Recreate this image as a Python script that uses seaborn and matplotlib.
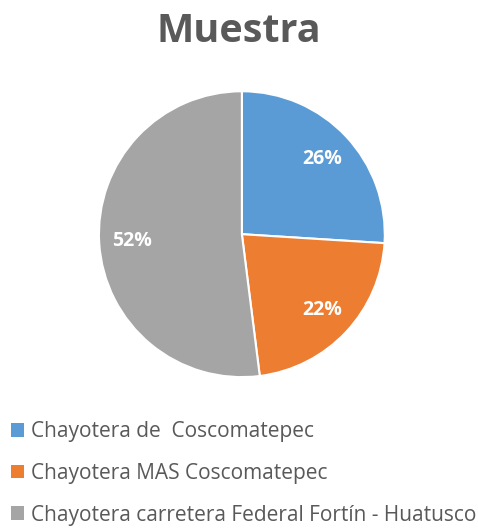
import matplotlib.pyplot as plt
import seaborn as sns
from matplotlib.patches import Patch

sns.set_theme(style="white")
plt.rcParams['font.family'] = ['Open Sans', 'DejaVu Sans']

# Data
categories = ["Chayotera de  Coscomatepec",
              "Chayotera MAS Coscomatepec",
              "Chayotera carretera Federal Fortín - Huatusco"]
shares = [26, 22, 52]
colors = ["#5B9BD5", "#ED7D31", "#A5A5A5"]

fig = plt.figure(figsize=(4.78, 5.29), dpi=100)
fig.patch.set_facecolor("white")

# Pie
ax = fig.add_axes([0.207, 0.287, 0.598, 0.5406])
wedges, texts, autotexts = ax.pie(
    shares, colors=colors, startangle=90, counterclock=False,
    autopct="%1.0f%%", pctdistance=0.77,
    wedgeprops=dict(edgecolor="white", linewidth=1.5),
    textprops=dict(color="white", fontsize=14, fontweight="bold"))
ax.set_xlim(-1.0, 1.0)
ax.set_ylim(-1.0, 1.0)
ax.set_aspect("equal")

# Title
fig.text(0.5, 0.941, "Muestra", ha="center", va="center",
         fontsize=28.5, fontweight="bold", color="#595959")

# Legend
handles = [Patch(facecolor=c, edgecolor="none") for c in colors]
fig.legend(handles, categories, loc="upper left",
           bbox_to_anchor=(0.022, 1 - 421 / 529), frameon=False,
           fontsize=15, labelcolor="#595959", borderpad=0, borderaxespad=0,
           handlelength=0.65, handleheight=0.65, handletextpad=0.35,
           labelspacing=1.0)

plt.savefig("out.png", dpi=100)
